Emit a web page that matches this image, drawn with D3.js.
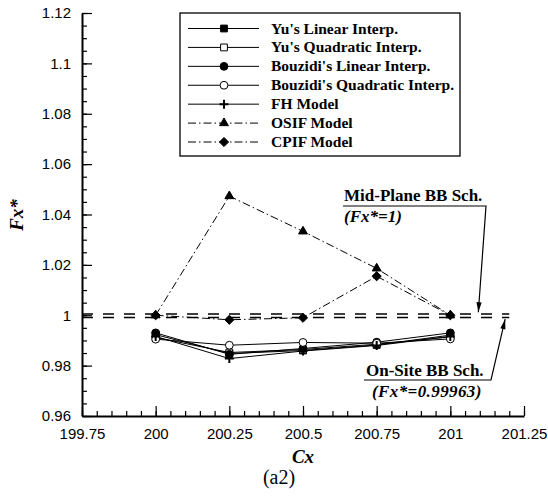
<!DOCTYPE html>
<html>
<head>
<meta charset="utf-8">
<script src="https://cdn.jsdelivr.net/npm/d3@7"></script>
<style>
  body { margin: 0; background: #fff; }
  svg { display: block; }
  .tick text { font-family: "Liberation Sans", Arial, sans-serif; font-size: 15px; fill: #000; }
  .serif { font-family: "Liberation Serif", "Times New Roman", serif; }
</style>
</head>
<body>
<svg id="chart" width="548" height="496"></svg>
<script>
// x positions (Cx)
const cx = [200, 200.25, 200.5, 200.75, 201];

// Fx* values
const yuLinear = [0.9923, 0.9848, 0.9860, 0.9882, 0.9921];
const yuQuadratic = [0.9912, 0.9852, 0.9864, 0.9885, 0.9914];
const bouzidiLinear = [0.9930, 0.9845, 0.9868, 0.9893, 0.9930];
const bouzidiQuadratic = [0.9905, 0.9881, 0.9892, 0.9889, 0.9906];
const fhModel = [0.9916, 0.9828, 0.9858, 0.9880, 0.9916];
const osifModel = [1.0, 1.0473, 1.0333, 1.0186, 1.0];
const cpifModel = [1.0, 0.9982, 0.9990, 1.0155, 1.0];

const midPlaneValue = 1.0;
const onSiteValue = 0.99963;

const xTicks = [199.75, 200, 200.25, 200.5, 200.75, 201, 201.25];
const yTicks = [0.96, 0.98, 1, 1.02, 1.04, 1.06, 1.08, 1.1, 1.12];

const seriesNames = [
  "Yu's Linear Interp.",
  "Yu's Quadratic Interp.",
  "Bouzidi's Linear Interp.",
  "Bouzidi's Quadratic Interp.",
  "FH Model",
  "OSIF Model",
  "CPIF Model"
];

const series = [
  { name: seriesNames[0], values: yuLinear, marker: "square", fill: "#000", dash: null },
  { name: seriesNames[1], values: yuQuadratic, marker: "square", fill: "#fff", dash: null },
  { name: seriesNames[2], values: bouzidiLinear, marker: "circle", fill: "#000", dash: null },
  { name: seriesNames[3], values: bouzidiQuadratic, marker: "circle", fill: "#fff", dash: null },
  { name: seriesNames[4], values: fhModel, marker: "plus", fill: "#000", dash: null },
  { name: seriesNames[5], values: osifModel, marker: "triangle", fill: "#000", dash: "8,3,1.5,3" },
  { name: seriesNames[6], values: cpifModel, marker: "diamond", fill: "#000", dash: "8,3,1.5,3" }
];

const svg = d3.select("#chart");
const plotL = 82, plotR = 524, plotT = 13, plotB = 416;

const x = d3.scaleLinear().domain([199.75, 201.25]).range([plotL, plotR]);
const y = d3.scaleLinear().domain([0.96, 1.12]).range([plotB, plotT]);
const fmt = (d) => String(+d.toFixed(2));

// minor ticks
const xMinor = d3.range(199.75, 201.2501, 0.05);
const yMinor = d3.range(0.96, 1.12001, 0.005);

svg.append("g")
  .attr("transform", `translate(0,${plotB})`)
  .call(d3.axisBottom(x).tickValues(xMinor).tickSize(-5).tickFormat(""))
  .call((g) => g.select(".domain").remove());
svg.append("g")
  .attr("transform", `translate(${plotL},0)`)
  .call(d3.axisLeft(y).tickValues(yMinor).tickSize(-5).tickFormat(""))
  .call((g) => g.select(".domain").remove());

const xAxis = svg.append("g")
  .attr("transform", `translate(0,${plotB})`)
  .call(d3.axisBottom(x).tickValues(xTicks).tickSizeInner(-10).tickSizeOuter(0)
    .tickPadding(12).tickFormat(fmt));
const yAxis = svg.append("g")
  .attr("transform", `translate(${plotL},0)`)
  .call(d3.axisLeft(y).tickValues(yTicks).tickSizeInner(-10).tickSizeOuter(0)
    .tickPadding(11).tickFormat(fmt));

svg.selectAll(".tick line").attr("stroke", "#000").attr("stroke-width", 1.2);
[xAxis, yAxis].forEach((a) => a.select(".domain").attr("stroke", "#000").attr("stroke-width", 2));

// reference lines (drawn a hair apart so both remain visible, as in the figure)
const refLines = [
  { value: midPlaneValue, nudge: -1.2 },
  { value: onSiteValue, nudge: 1.2 }
];
svg.selectAll(".ref")
  .data(refLines)
  .join("line")
  .attr("class", "ref")
  .attr("x1", x(199.75))
  .attr("x2", x(201.2))
  .attr("y1", (d) => y(d.value) + d.nudge)
  .attr("y2", (d) => y(d.value) + d.nudge)
  .attr("stroke", "#000")
  .attr("stroke-width", 1.5)
  .attr("stroke-dasharray", "11,10");

// markers
const markerPath = (type) => {
  if (type === "square") return d3.symbol(d3.symbolSquare, 46)();
  if (type === "circle") return d3.symbol(d3.symbolCircle, 48)();
  if (type === "triangle") return d3.symbol(d3.symbolTriangle, 34)();
  if (type === "diamond") return "M0,-4.6L4.6,0L0,4.6L-4.6,0Z";
  return "M-4.5,0H4.5M0,-4.5V4.5";
};

function drawMarker(g, s) {
  const p = g.append("path").attr("d", markerPath(s.marker));
  if (s.marker === "plus") {
    p.attr("fill", "none").attr("stroke", "#000").attr("stroke-width", 2);
  } else {
    p.attr("fill", s.fill).attr("stroke", "#000").attr("stroke-width", 1);
  }
}

const line = d3.line().x((d) => x(d[0])).y((d) => y(d[1]));

series.forEach((s) => {
  const pts = cx.map((c, i) => [c, s.values[i]]);
  svg.append("path")
    .datum(pts)
    .attr("d", line)
    .attr("fill", "none")
    .attr("stroke", "#000")
    .attr("stroke-width", 1)
    .attr("stroke-dasharray", s.dash);
});
series.forEach((s) => {
  const pts = cx.map((c, i) => [c, s.values[i]]);
  pts.forEach((p) => {
    const g = svg.append("g").attr("transform", `translate(${x(p[0])},${y(p[1])})`);
    drawMarker(g, s);
  });
});

// legend
const legend = svg.append("g").attr("transform", "translate(180,13)");
legend.append("rect")
  .attr("width", 280).attr("height", 143)
  .attr("fill", "#fff").attr("stroke", "#000").attr("stroke-width", 1.3);
const rowY = d3.scaleLinear().domain([0, 6]).range([15.5, 129]);
series.forEach((s, i) => {
  const row = legend.append("g").attr("transform", `translate(0,${rowY(i)})`);
  row.append("line")
    .attr("x1", 8).attr("x2", 79)
    .attr("stroke", "#000").attr("stroke-width", 1)
    .attr("stroke-dasharray", s.dash);
  const m = row.append("g").attr("transform", "translate(44,0)");
  drawMarker(m, s);
  row.append("text")
    .attr("class", "serif")
    .attr("x", 91).attr("y", 5)
    .style("font-size", "15.5px").style("font-weight", "bold")
    .text(s.name);
});

// annotations
const arrowHead = (g, x1, y1, x2, y2) => {
  const ang = Math.atan2(y2 - y1, x2 - x1);
  const len = 10, w = 2.6;
  const bx = x2 - len * Math.cos(ang), by = y2 - len * Math.sin(ang);
  const px = -Math.sin(ang) * w, py = Math.cos(ang) * w;
  g.append("path")
    .attr("d", `M${x2},${y2}L${bx + px},${by + py}L${bx - px},${by - py}Z`)
    .attr("fill", "#000");
};

const ann = svg.append("g").attr("class", "serif").style("font-weight", "bold");
// Mid-plane
ann.append("text").attr("x", 344).attr("y", 201).style("font-size", "17px").text("Mid-Plane BB Sch.");
ann.append("text").attr("x", 344).attr("y", 222).style("font-size", "17px").style("font-style", "italic").text("(Fx*=1)");
const midTip = [x(201.095), y(midPlaneValue) - 3];
ann.append("path")
  .attr("d", `M343,206H486L${midTip[0]},${midTip[1]}`)
  .attr("fill", "none").attr("stroke", "#000").attr("stroke-width", 1.2);
arrowHead(ann, 486, 206, midTip[0], midTip[1]);
// On-site
ann.append("text").attr("x", 366).attr("y", 376).style("font-size", "17px").text("On-Site BB Sch.");
ann.append("text").attr("x", 372).attr("y", 397).style("font-size", "17px").style("font-style", "italic")
  .style("letter-spacing", "0.4px").text("(Fx*=0.99963)");
const onTip = [x(201.186), y(onSiteValue) + 3];
ann.append("path")
  .attr("d", `M364,380H491L${onTip[0]},${onTip[1]}`)
  .attr("fill", "none").attr("stroke", "#000").attr("stroke-width", 1.2);
arrowHead(ann, 491, 380, onTip[0], onTip[1]);

// axis titles
svg.append("text")
  .attr("class", "serif")
  .attr("x", (plotL + plotR) / 2).attr("y", 463)
  .attr("text-anchor", "middle")
  .style("font-size", "19px").style("font-weight", "bold").style("font-style", "italic")
  .text("Cx");
svg.append("text")
  .attr("class", "serif")
  .attr("transform", "translate(23,215) rotate(-90)")
  .attr("text-anchor", "middle")
  .style("font-size", "19px").style("font-weight", "bold").style("font-style", "italic")
  .text("Fx*");
svg.append("text")
  .attr("class", "serif")
  .attr("x", 279).attr("y", 484)
  .attr("text-anchor", "middle")
  .style("font-size", "20px")
  .text("(a2)");
</script>
</body>
</html>
